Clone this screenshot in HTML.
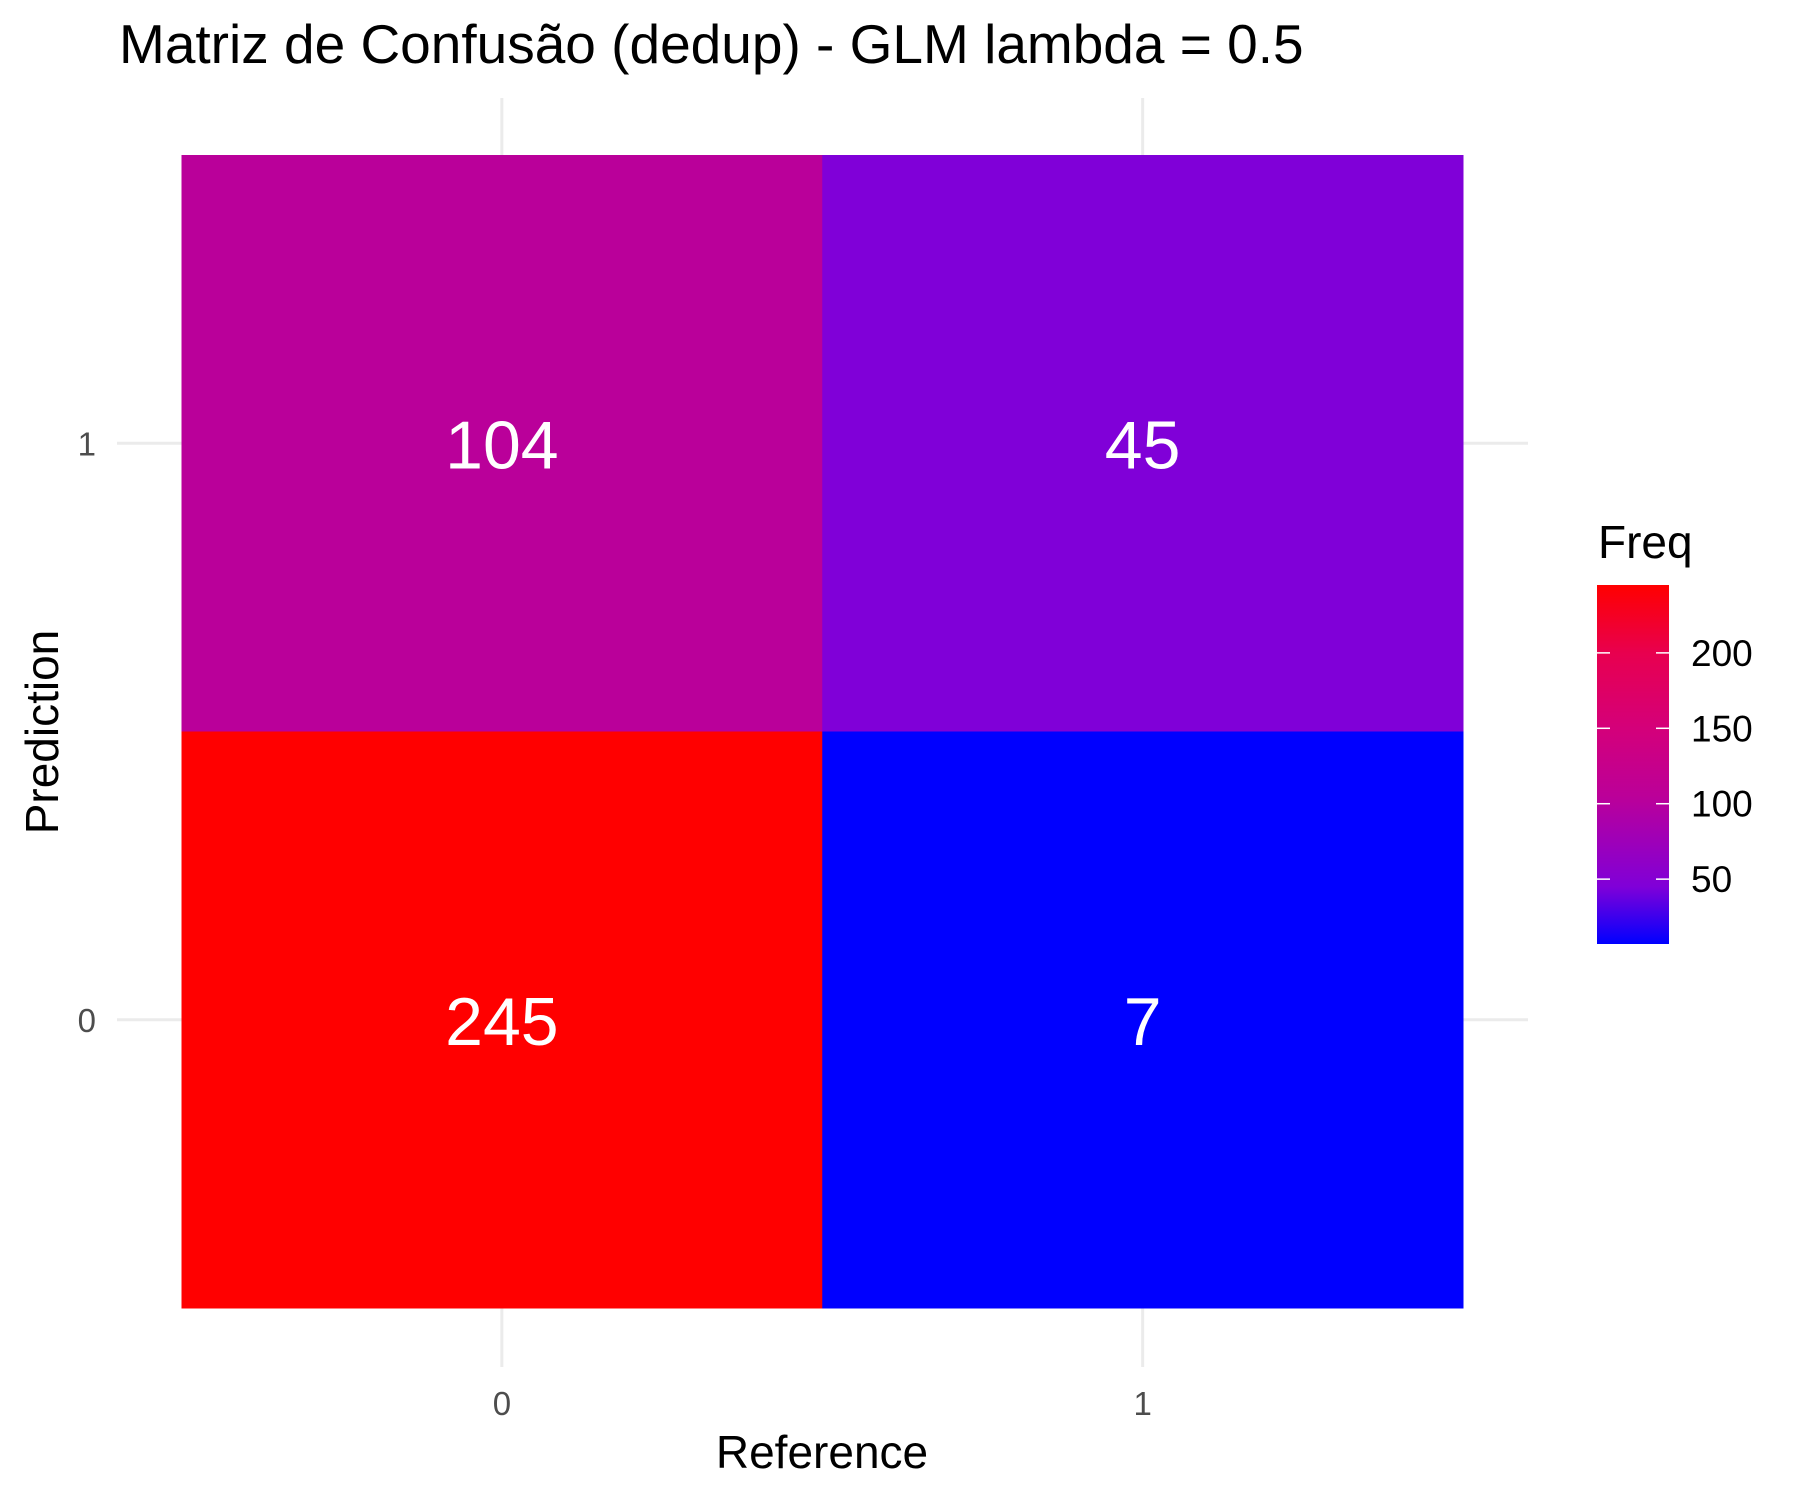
<!DOCTYPE html>
<html><head><meta charset="utf-8">
<style>
html,body{margin:0;padding:0;background:#fff;}
svg{display:block;font-family:"Liberation Sans",Arial,sans-serif;}
</style></head>
<body>
<svg id="chart" width="1800" height="1500" viewBox="0 0 1800 1500">
  <defs>
    <linearGradient id="lg" x1="0" y1="1" x2="0" y2="0">
      <stop offset="0" stop-color="#0000FF"/>
      <stop offset="0.16" stop-color="#8000D8"/>
      <stop offset="0.41" stop-color="#BB0099"/>
      <stop offset="0.6" stop-color="#D4007A"/>
      <stop offset="0.81" stop-color="#E8004F"/>
      <stop offset="1" stop-color="#FF0000"/>
    </linearGradient>
  </defs>
  <text x="119" y="63" font-size="55" fill="#000">Matriz de Confusão (dedup) - GLM lambda = 0.5</text>
  <g id="grid"></g>
  <g id="cells"></g>
  <g id="ticks"></g>
  <text x="822" y="1468" font-size="46" text-anchor="middle" fill="#000">Reference</text>
  <text transform="translate(58,732) rotate(-90)" font-size="46" text-anchor="middle" fill="#000">Prediction</text>
  <g>
    <text x="1598" y="558" font-size="46" fill="#000">Freq</text>
    <rect x="1597" y="585" width="72" height="359" fill="url(#lg)"/>
    <g id="legend-ticks"></g>
  </g>
</svg>
<script>
const refCats = ["0","1"];
const predCats = ["0","1"];
const cellRef = ["0","1","0","1"];
const cellPred = ["1","1","0","0"];
const cellFreq = [104, 45, 245, 7];
const legendTicks = [50, 100, 150, 200];

const NS = "http://www.w3.org/2000/svg";
const px0 = 181.5, px1 = 1463, py0 = 155, py1 = 1308;
const bw = (px1 - px0) / refCats.length, bh = (py1 - py0) / predCats.length;
function xPos(c){ return px0 + bw * (refCats.indexOf(c) + 0.5); }
function yPos(c){ return py1 - bh * (predCats.indexOf(c) + 0.5); }
const fmin = Math.min(...cellFreq), fmax = Math.max(...cellFreq);
const lgTop = 585, lgBot = 944;
function lgY(v){ return lgBot - (v - fmin) / (fmax - fmin) * (lgBot - lgTop); }
const stops = [[0,[0,0,255]],[0.16,[128,0,216]],[0.41,[187,0,153]],[0.6,[212,0,122]],[0.81,[232,0,79]],[1,[255,0,0]]];
function color(v){
  const t = (v - fmin) / (fmax - fmin);
  for (let i = 1; i < stops.length; i++) {
    if (t <= stops[i][0]) {
      const a = stops[i-1], b = stops[i], f = (t - a[0]) / (b[0] - a[0]);
      const c = a[1].map((x, k) => Math.round(x + (b[1][k] - x) * f));
      return "rgb(" + c.join(",") + ")";
    }
  }
  return "rgb(255,0,0)";
}
function mk(tag, attrs, parent){ const e = document.createElementNS(NS, tag); for (const k in attrs) e.setAttribute(k, attrs[k]); parent.appendChild(e); return e; }

const grid = document.getElementById("grid");
refCats.forEach(c => {
  const l = mk("line", {x1: xPos(c), x2: xPos(c), y1: 98, y2: 1367, stroke: "#EBEBEB", "stroke-width": 3}, grid);
  
  
});
predCats.forEach(c => {
  const l = mk("line", {x1: 117, x2: 1528, y1: yPos(c), y2: yPos(c), stroke: "#EBEBEB", "stroke-width": 3}, grid);
  
  
});
const cells = document.getElementById("cells");
cellFreq.forEach((v, i) => {
  const cx = xPos(cellRef[i]), cy = yPos(cellPred[i]);
  const r = mk("rect", {x: cx - bw/2, y: cy - bh/2, width: bw + 0.5, height: bh + 0.5, fill: color(v)}, cells);
  
  
  const t = mk("text", {x: cx, y: cy + 25, "font-size": 68, fill: "#fff", "text-anchor": "middle"}, cells);
  t.textContent = v;
  
  
});
const ticks = document.getElementById("ticks");
refCats.forEach(c => {
  const t = mk("text", {x: xPos(c), y: 1415, "font-size": 33, fill: "#4D4D4D", "text-anchor": "middle"}, ticks);
  t.textContent = c;
  
  
});
predCats.forEach(c => {
  const t = mk("text", {x: 96, y: yPos(c) + 12, "font-size": 33, fill: "#4D4D4D", "text-anchor": "end"}, ticks);
  t.textContent = c;
  
  
});
const lt = document.getElementById("legend-ticks");
legendTicks.forEach(v => {
  const y = lgY(v);
  const a = mk("line", {x1: 1597, x2: 1610, y1: y, y2: y, stroke: "#fff", "stroke-width": 1.5}, lt);
  
  
  const b = mk("line", {x1: 1656, x2: 1669, y1: y, y2: y, stroke: "#fff", "stroke-width": 1.5}, lt);
  
  
  const t = mk("text", {x: 1691, y: y + 13, "font-size": 37, fill: "#000"}, lt);
  t.textContent = v;
  
  
});
</script>
</body></html>
